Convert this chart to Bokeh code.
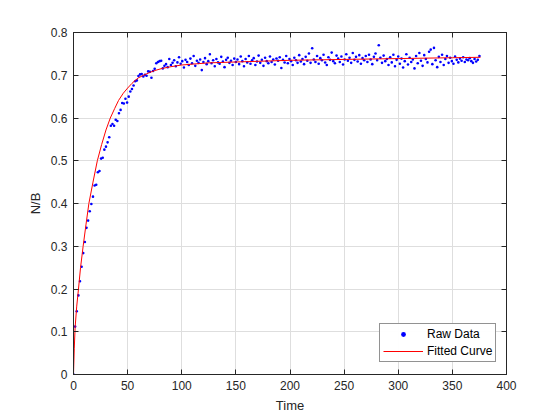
from bokeh.plotting import figure
from bokeh.models import Range1d, FixedTicker, LinearAxis, Legend, LegendItem
from bokeh.embed import file_html
from bokeh.resources import INLINE

# ---- data ----
t_step = 1.5
raw_values = [
    0.000, 0.112, 0.148, 0.185, 0.218, 0.252, 0.284, 0.310, 0.343, 0.360,
    0.382, 0.399, 0.416, 0.442, 0.444, 0.473, 0.476, 0.505, 0.507, 0.526,
    0.533, 0.543, 0.555, 0.582, 0.586, 0.582, 0.596, 0.593, 0.611, 0.619,
    0.635, 0.634, 0.645, 0.636, 0.650, 0.662, 0.668, 0.676, 0.686, 0.688,
    0.698, 0.702, 0.703, 0.697, 0.701, 0.699, 0.709, 0.708, 0.694, 0.710,
    0.715, 0.728, 0.731, 0.733, 0.734, 0.716, 0.722, 0.726, 0.719, 0.738,
    0.724,
    0.729, 0.735, 0.721, 0.730, 0.742, 0.727, 0.733, 0.718, 0.736, 0.731,
    0.724, 0.739, 0.728, 0.745, 0.722, 0.734, 0.729, 0.737, 0.712, 0.731,
    0.740, 0.726, 0.733, 0.749, 0.728, 0.735, 0.721, 0.738, 0.730, 0.727,
    0.743, 0.732, 0.719, 0.736, 0.741, 0.729, 0.734, 0.724, 0.739, 0.731,
    0.737, 0.726, 0.744, 0.733, 0.721, 0.738, 0.730, 0.745, 0.727, 0.735,
    0.740, 0.724, 0.732, 0.746, 0.729, 0.736, 0.722, 0.741, 0.733, 0.728,
    0.744, 0.731, 0.737, 0.725, 0.739, 0.734, 0.742, 0.717, 0.736, 0.730,
    0.745, 0.728, 0.738, 0.733, 0.724, 0.741, 0.735, 0.729, 0.747, 0.732,
    0.738, 0.726, 0.743, 0.734, 0.751, 0.729, 0.763, 0.737, 0.731, 0.745,
    0.727, 0.740, 0.735, 0.748, 0.730, 0.724, 0.742, 0.736, 0.753, 0.733,
    0.728, 0.746, 0.739, 0.731, 0.744, 0.725, 0.737, 0.749, 0.734, 0.741,
    0.729, 0.752, 0.736, 0.743, 0.732, 0.747, 0.727, 0.740, 0.735, 0.745,
    0.731, 0.748, 0.737, 0.726, 0.743, 0.751, 0.735, 0.770, 0.741, 0.729,
    0.746, 0.733, 0.738, 0.724, 0.742, 0.730, 0.748, 0.721, 0.736, 0.744,
    0.727, 0.739, 0.718, 0.733, 0.749, 0.725, 0.741, 0.731, 0.737, 0.716,
    0.745, 0.728, 0.752, 0.734, 0.722, 0.747, 0.738, 0.730, 0.755, 0.760,
    0.726, 0.764, 0.735, 0.719, 0.743, 0.731, 0.748, 0.724, 0.738, 0.745,
    0.729, 0.741, 0.733, 0.727, 0.744, 0.736, 0.730, 0.739, 0.734, 0.742,
    0.731, 0.737, 0.735, 0.740, 0.733, 0.729, 0.738, 0.732, 0.736, 0.745,
]
raw_time = [i * t_step for i in range(len(raw_values))]

fit_time = [0, 0.7, 1.5, 3, 4.6, 6.5, 8.9, 11.5, 14.2, 18, 22, 26, 30, 34,
            38, 41.6, 46, 50, 54, 57, 60, 64.7, 70, 75, 82, 90, 100, 110,
            125, 150, 200, 250, 300, 350, 376]
fit_values = [0.0, 0.06, 0.11, 0.16, 0.20, 0.25, 0.30, 0.35, 0.40, 0.45, 0.50,
              0.538, 0.572, 0.60, 0.622, 0.641, 0.658, 0.670, 0.681, 0.688,
              0.694, 0.700, 0.706, 0.711, 0.716, 0.720, 0.724, 0.726, 0.729,
              0.731, 0.735, 0.737, 0.739, 0.741, 0.742]

x_ticks = [0, 50, 100, 150, 200, 250, 300, 350, 400]
y_ticks = [0, 0.1, 0.2, 0.3, 0.4, 0.5, 0.6, 0.7, 0.8]

FONT = "Liberation Sans"
DARK = "#262626"

p = figure(width=552, height=412, output_backend="svg", toolbar_location=None,
           x_range=Range1d(0, 400), y_range=Range1d(0, 0.8),
           frame_width=433, frame_height=342,
           min_border_left=73, min_border_top=32, min_border_right=46,
           min_border_bottom=38)
p.background_fill_color = "white"
p.border_fill_color = "white"
p.outline_line_color = DARK
p.outline_line_width = 1

for ax, ticks in ((p.xaxis[0], x_ticks), (p.yaxis[0], y_ticks)):
    ax.ticker = FixedTicker(ticks=ticks)
    ax.major_tick_in = 5
    ax.major_tick_out = 0
    ax.minor_tick_line_color = None
    ax.axis_line_color = DARK
    ax.major_tick_line_color = DARK
    ax.major_label_text_color = DARK
    ax.major_label_text_font = FONT
    ax.major_label_text_font_size = "12px"
    ax.axis_label_text_font = FONT
    ax.axis_label_text_font_size = "13px"
    ax.axis_label_text_font_style = "normal"
    ax.axis_label_text_color = DARK
    ax.major_label_standoff = 6

p.xaxis.axis_label = "Time"
p.yaxis.axis_label = "N/B"
p.xaxis.axis_label_standoff = 5
p.yaxis.axis_label_standoff = 5

for side, ticks in (("right", y_ticks), ("above", x_ticks)):
    ax = LinearAxis(ticker=FixedTicker(ticks=ticks), major_tick_in=5,
                    major_tick_out=0, minor_tick_line_color=None,
                    axis_line_color=DARK, major_tick_line_color=DARK,
                    major_label_text_color=None,
                    major_label_text_font_size="1px", major_label_standoff=0)
    p.add_layout(ax, side)

p.xgrid.ticker = FixedTicker(ticks=x_ticks)
p.ygrid.ticker = FixedTicker(ticks=y_ticks)
p.grid.grid_line_color = "#dedede"
p.grid.grid_line_width = 1

raw = p.scatter(raw_time, raw_values, size=2.6, color="#0000ff", line_width=0)
fit = p.line(fit_time, fit_values, line_color="#ff0000", line_width=1)

legend = Legend(items=[LegendItem(label="Raw Data", renderers=[raw]),
                       LegendItem(label="Fitted Curve", renderers=[fit])],
                location=(306, 12))
legend.border_line_color = DARK
legend.border_line_width = 1
legend.background_fill_color = "white"
legend.label_text_font = FONT
legend.label_text_font_size = "12px"
legend.label_text_color = "black"
legend.glyph_width = 40
legend.glyph_height = 12
legend.label_height = 12
legend.label_standoff = 4
legend.spacing = 3
legend.padding = 3
legend.margin = 0
p.add_layout(legend, "center")

open("out.html", "w").write(file_html(p, INLINE))
